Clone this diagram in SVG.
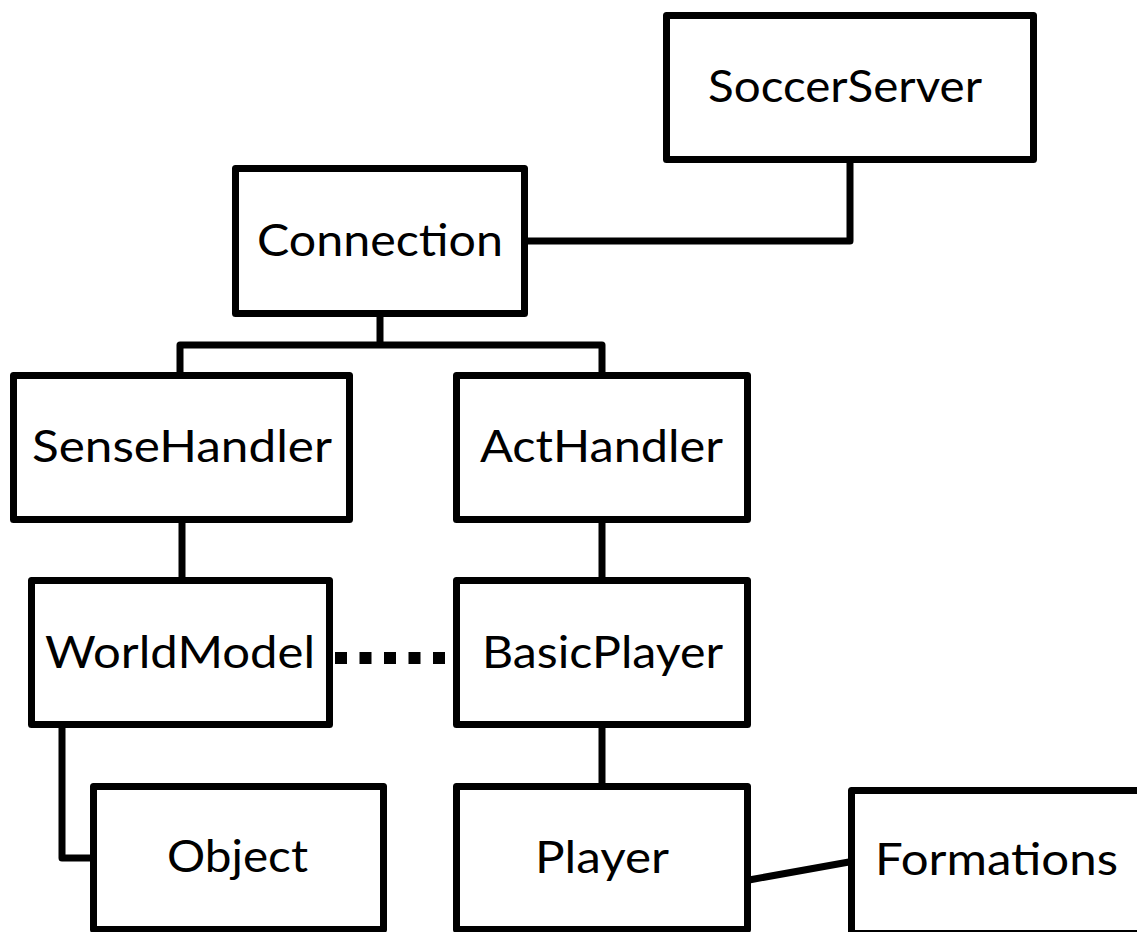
<svg xmlns="http://www.w3.org/2000/svg" width="1137" height="932" viewBox="0 0 1137 932">
  <style>
    .box { fill: #ffffff; stroke: #000000; stroke-width: 7; stroke-linejoin: round; }
    .label { font-family: Lato, "Open Sans", "Liberation Sans", sans-serif; font-size: 44px; fill: #000000; text-anchor: middle; }
    .link { fill: none; stroke: #000000; stroke-width: 7; stroke-linejoin: round; }
    .assoc { fill: none; stroke: #000000; stroke-width: 12; stroke-dasharray: 12 12.5; }
  </style>
  <rect width="1137" height="932" fill="#ffffff"/>

  <!-- connectors -->
  <g id="connectors">
    <polyline class="link" points="528,241 850,241 850,162"/>
    <polyline class="link" points="380,316 380,345"/>
    <polyline class="link" points="180,374 180,345 602,345 602,374"/>
    <polyline class="link" points="182,521 182,579"/>
    <polyline class="link" points="602,521 602,579"/>
    <polyline class="link" points="602,726 602,785"/>
    <polyline class="link" points="62,726 62,858 92,858"/>
    <line class="link" x1="749" y1="880" x2="849" y2="862"/>
    <line class="assoc" x1="335" y1="658" x2="449" y2="658"/>
  </g>

  <!-- nodes -->
  <g id="soccerserver">
    <rect class="box" x="666.5" y="15.5" width="367" height="144"/>
    <text class="label" x="845" y="102" textLength="274" lengthAdjust="spacingAndGlyphs">SoccerServer</text>
  </g>
  <g id="connection">
    <rect class="box" x="235.5" y="168.5" width="289" height="145"/>
    <text class="label" x="380" y="256" textLength="246" lengthAdjust="spacingAndGlyphs">Connection</text>
  </g>
  <g id="sensehandler">
    <rect class="box" x="13.5" y="375.5" width="336" height="144"/>
    <text class="label" x="182" y="462" textLength="300" lengthAdjust="spacingAndGlyphs">SenseHandler</text>
  </g>
  <g id="acthandler">
    <rect class="box" x="456.5" y="375.5" width="291" height="144"/>
    <text class="label" x="601.5" y="462" textLength="243" lengthAdjust="spacingAndGlyphs">ActHandler</text>
  </g>
  <g id="worldmodel">
    <rect class="box" x="31.5" y="580.5" width="298" height="144"/>
    <text class="label" x="180" y="668" textLength="270" lengthAdjust="spacingAndGlyphs">WorldModel</text>
  </g>
  <g id="basicplayer">
    <rect class="box" x="456.5" y="580.5" width="291" height="144"/>
    <text class="label" x="602.5" y="668" textLength="241" lengthAdjust="spacingAndGlyphs">BasicPlayer</text>
  </g>
  <g id="object">
    <rect class="box" x="93.5" y="786.5" width="290" height="143"/>
    <text class="label" x="237.5" y="872" textLength="141" lengthAdjust="spacingAndGlyphs">Object</text>
  </g>
  <g id="player">
    <rect class="box" x="456.5" y="786.5" width="291" height="143"/>
    <text class="label" x="602" y="873" textLength="134" lengthAdjust="spacingAndGlyphs">Player</text>
  </g>
  <g id="formations">
    <rect class="box" x="851.5" y="790.5" width="300" height="143"/>
    <text class="label" x="996.5" y="875" textLength="243" lengthAdjust="spacingAndGlyphs">Formations</text>
  </g>
</svg>
